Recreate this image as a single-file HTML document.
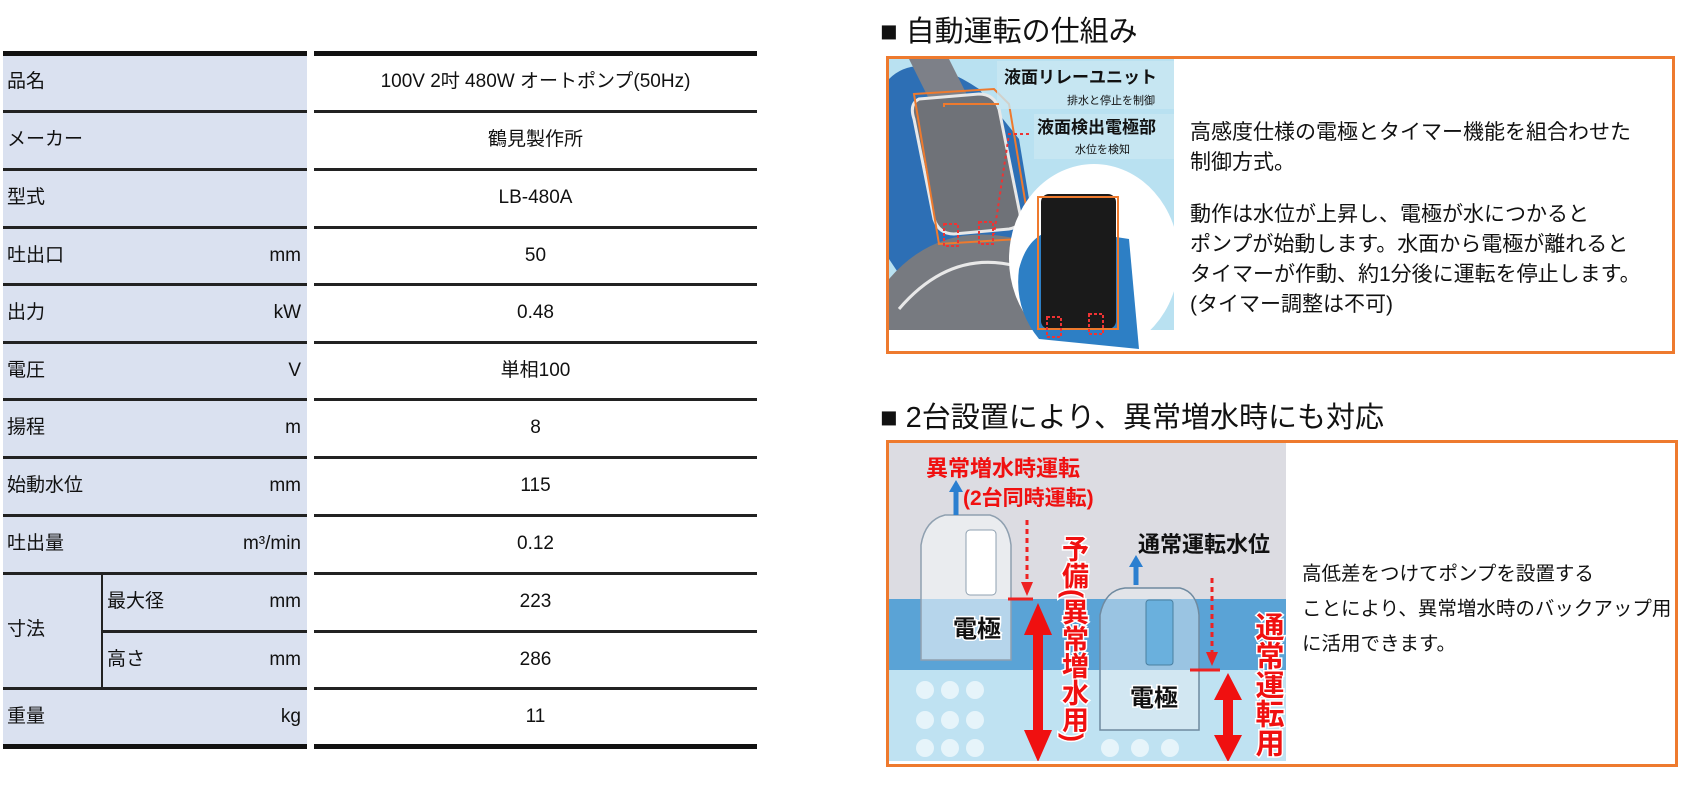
<!DOCTYPE html>
<html><head><meta charset="utf-8"><style>
body{margin:0;width:1700px;height:800px;background:#fff;position:relative;overflow:hidden;font-family:"Liberation Sans","Noto Sans CJK JP",sans-serif;color:#111}
.a{position:absolute;white-space:nowrap}
.l{position:absolute;left:3px;width:304px;background:#dae1f0}
.ln{position:absolute;height:3px;background:#222}
.t{font-size:19px;line-height:20px}
</style></head><body>
<div class="l" style="top:53px;height:693px"></div>
<div class="ln" style="left:3px;width:304px;top:51px;height:5px;background:#111"></div>
<div class="ln" style="left:314px;width:443px;top:51px;height:5px;background:#111"></div>
<div class="ln" style="left:3px;width:304px;top:744px;height:5px;background:#111"></div>
<div class="ln" style="left:314px;width:443px;top:744px;height:5px;background:#111"></div>
<div class="ln" style="left:3px;width:304px;top:110px"></div><div class="ln" style="left:314px;width:443px;top:110px"></div>
<div class="ln" style="left:3px;width:304px;top:168px"></div><div class="ln" style="left:314px;width:443px;top:168px"></div>
<div class="ln" style="left:3px;width:304px;top:226px"></div><div class="ln" style="left:314px;width:443px;top:226px"></div>
<div class="ln" style="left:3px;width:304px;top:283px"></div><div class="ln" style="left:314px;width:443px;top:283px"></div>
<div class="ln" style="left:3px;width:304px;top:341px"></div><div class="ln" style="left:314px;width:443px;top:341px"></div>
<div class="ln" style="left:3px;width:304px;top:398px"></div><div class="ln" style="left:314px;width:443px;top:398px"></div>
<div class="ln" style="left:3px;width:304px;top:456px"></div><div class="ln" style="left:314px;width:443px;top:456px"></div>
<div class="ln" style="left:3px;width:304px;top:514px"></div><div class="ln" style="left:314px;width:443px;top:514px"></div>
<div class="ln" style="left:3px;width:304px;top:572px"></div><div class="ln" style="left:314px;width:443px;top:572px"></div>
<div class="ln" style="left:102px;width:205px;top:630px"></div><div class="ln" style="left:314px;width:443px;top:630px"></div>
<div class="ln" style="left:3px;width:304px;top:687px"></div><div class="ln" style="left:314px;width:443px;top:687px"></div>
<div class="ln" style="left:101px;width:2px;top:573px;height:115px"></div>
<div class="a t" style="left:7px;top:72px">品名</div>
<div class="a t" style="left:7px;top:130px">メーカー</div>
<div class="a t" style="left:7px;top:188px">型式</div>
<div class="a t" style="left:7px;top:246px">吐出口</div><div class="a t" style="right:1399px;top:246px">mm</div>
<div class="a t" style="left:7px;top:303px">出力</div><div class="a t" style="right:1399px;top:303px">kW</div>
<div class="a t" style="left:7px;top:361px">電圧</div><div class="a t" style="right:1399px;top:361px">V</div>
<div class="a t" style="left:7px;top:418px">揚程</div><div class="a t" style="right:1399px;top:418px">m</div>
<div class="a t" style="left:7px;top:476px">始動水位</div><div class="a t" style="right:1399px;top:476px">mm</div>
<div class="a t" style="left:7px;top:534px">吐出量</div><div class="a t" style="right:1399px;top:534px">m&#179;/min</div>
<div class="a t" style="left:7px;top:620px">寸法</div>
<div class="a t" style="left:107px;top:592px">最大径</div><div class="a t" style="right:1399px;top:592px">mm</div>
<div class="a t" style="left:107px;top:650px">高さ</div><div class="a t" style="right:1399px;top:650px">mm</div>
<div class="a t" style="left:7px;top:707px">重量</div><div class="a t" style="right:1399px;top:707px">kg</div>
<div class="a t" style="left:314px;width:443px;text-align:center;top:72px">100V 2吋 480W オートポンプ(50Hz)</div>
<div class="a t" style="left:314px;width:443px;text-align:center;top:130px">鶴見製作所</div>
<div class="a t" style="left:314px;width:443px;text-align:center;top:188px">LB-480A</div>
<div class="a t" style="left:314px;width:443px;text-align:center;top:246px">50</div>
<div class="a t" style="left:314px;width:443px;text-align:center;top:303px">0.48</div>
<div class="a t" style="left:314px;width:443px;text-align:center;top:361px">単相100</div>
<div class="a t" style="left:314px;width:443px;text-align:center;top:418px">8</div>
<div class="a t" style="left:314px;width:443px;text-align:center;top:476px">115</div>
<div class="a t" style="left:314px;width:443px;text-align:center;top:534px">0.12</div>
<div class="a t" style="left:314px;width:443px;text-align:center;top:592px">223</div>
<div class="a t" style="left:314px;width:443px;text-align:center;top:650px">286</div>
<div class="a t" style="left:314px;width:443px;text-align:center;top:707px">11</div>

<div class="a" style="left:880px;top:14px;font-size:29px;line-height:36px">■ 自動運転の仕組み</div>
<div class="a" style="left:880px;top:400px;font-size:29px;line-height:36px">■ 2台設置により、異常増水時にも対応</div>

<div class="a" style="left:886px;top:56px;width:783px;height:292px;border:3px solid #ee7a2e"></div>
<svg class="a" style="left:889px;top:59px" width="285" height="290" viewBox="0 0 285 290">
<rect width="285" height="271" fill="#b9e1f1"/>
<path d="M0 20 Q30 -10 90 30 L130 80 L150 200 L20 230 L0 200Z" fill="#2d6fb5"/>
<path d="M20 0 L60 0 L80 40 L40 40Z" fill="#7d8088"/>
<path d="M0 271 L0 220 Q60 150 160 190 L150 271Z" fill="#777a80"/>
<path d="M10 250 Q70 180 150 215" stroke="#e8e8e8" stroke-width="3" fill="none"/>
<path d="M30 40 Q20 45 25 60 L45 160 Q50 175 65 175 L120 170 Q135 168 130 150 L110 50 Q105 35 90 35Z" fill="#6f7278" stroke="#e8e8e8" stroke-width="3"/>
<path d="M25 35 L105 30 L120 45 L140 165 L130 180 L50 185 Z" fill="none" stroke="#ee7a2e" stroke-width="2"/>
<ellipse cx="205" cy="200" rx="85" ry="95" fill="#fff"/>
<path d="M130 210 Q140 170 175 170 L240 180 L250 290 L150 280 Q125 250 130 210Z" fill="#2d7fc5"/>
<rect x="152" y="135" width="75" height="135" rx="8" fill="#1a1a1a"/>
<rect x="149" y="138" width="80" height="132" fill="none" stroke="#ee7a2e" stroke-width="2"/>
<rect x="108" y="2" width="177" height="48" fill="#c9e7f3" opacity="0.8"/>
<rect x="145" y="55" width="140" height="45" fill="#c9e7f3" opacity="0.8"/>
<text x="115" y="24" font-size="17" font-weight="bold" fill="#111">液面リレーユニット</text>
<text x="178" y="45" font-size="11" fill="#111">排水と停止を制御</text>
<text x="148" y="74" font-size="17" font-weight="bold" fill="#111">液面検出電極部</text>
<text x="186" y="94" font-size="11" fill="#111">水位を検知</text>
<path d="M55 48 L55 45 L110 45" stroke="#ee7a2e" stroke-width="2" fill="none"/>
<path d="M140 75 L120 75 L105 175" stroke="#e33" stroke-dasharray="3 3" stroke-width="2" fill="none"/>
<rect x="55" y="165" width="14" height="22" fill="none" stroke="#e33" stroke-dasharray="3 2" stroke-width="2"/>
<rect x="90" y="163" width="14" height="22" fill="none" stroke="#e33" stroke-dasharray="3 2" stroke-width="2"/>
<rect x="158" y="258" width="14" height="20" fill="none" stroke="#e33" stroke-dasharray="3 2" stroke-width="2"/>
<rect x="200" y="255" width="14" height="20" fill="none" stroke="#e33" stroke-dasharray="3 2" stroke-width="2"/>
</svg>
<div class="a" style="left:1190px;top:118px;font-size:21px;line-height:30px">高感度仕様の電極とタイマー機能を組合わせた<br>制御方式。</div>
<div class="a" style="left:1190px;top:200px;font-size:21px;line-height:30px">動作は水位が上昇し、電極が水につかると<br>ポンプが始動します。水面から電極が離れると<br>タイマーが作動、約1分後に運転を停止します。<br>(タイマー調整は不可)</div>

<div class="a" style="left:886px;top:440px;width:786px;height:321px;border:3px solid #ee7a2e"></div>
<svg class="a" style="left:889px;top:443px" width="397" height="318" viewBox="889 443 397 318">
<rect x="889" y="443" width="397" height="318" fill="#dcdce2"/>
<rect x="889" y="599" width="397" height="71" fill="#5aa3d6"/>
<rect x="889" y="670" width="397" height="91" fill="#bfe2f2"/>
<g fill="#e6f4fa">
<circle cx="925" cy="690" r="9"/><circle cx="950" cy="690" r="9"/><circle cx="975" cy="690" r="9"/>
<circle cx="925" cy="720" r="9"/><circle cx="950" cy="720" r="9"/><circle cx="975" cy="720" r="9"/>
<circle cx="925" cy="748" r="9"/><circle cx="950" cy="748" r="9"/><circle cx="975" cy="748" r="9"/>
<circle cx="1110" cy="748" r="9"/><circle cx="1140" cy="748" r="9"/><circle cx="1170" cy="748" r="9"/>
</g>
<path d="M921 660 L921 545 Q925 520 945 515 L990 515 Q1008 520 1011 545 L1011 660Z" fill="#f4f6f8" fill-opacity="0.6" stroke="#8fa0b0" stroke-width="1.5"/>
<rect x="966" y="530" width="30" height="65" rx="4" fill="#fff" stroke="#8fa0b0"/>
<path d="M1100 730 L1100 615 Q1105 590 1125 588 L1180 588 Q1197 592 1199 615 L1199 730Z" fill="#e8eef2" fill-opacity="0.45" stroke="#6f8aa0" stroke-width="1.5"/>
<rect x="1146" y="600" width="27" height="65" rx="3" fill="#6ab0dd" stroke="#4a7fa0"/>
<path d="M956 515 L956 490" stroke="#2b7fd0" stroke-width="5"/><path d="M949 492 L956 480 L963 492Z" fill="#2b7fd0"/>
<path d="M1136 585 L1136 565" stroke="#2b7fd0" stroke-width="5"/><path d="M1129 567 L1136 555 L1143 567Z" fill="#2b7fd0"/>
<path d="M1027 520 L1027 582" stroke="#e22" stroke-width="3" stroke-dasharray="5 4"/><path d="M1021 582 L1027 596 L1033 582Z" fill="#e22"/>
<path d="M1008 599 L1033 599" stroke="#e22" stroke-width="3"/>
<path d="M1212 578 L1212 652" stroke="#e22" stroke-width="3" stroke-dasharray="5 4"/><path d="M1206 652 L1212 666 L1218 652Z" fill="#e22"/>
<path d="M1190 670 L1220 670" stroke="#e22" stroke-width="3"/>
<path d="M1038 603 L1052 635 L1043 635 L1043 730 L1052 730 L1038 762 L1024 730 L1033 730 L1033 635 L1024 635Z" fill="#f01010"/>
<path d="M1228 673 L1242 700 L1233 700 L1233 735 L1242 735 L1228 762 L1214 735 L1223 735 L1223 700 L1214 700Z" fill="#f01010"/>
<g font-weight="bold" stroke="#fff" stroke-width="3" paint-order="stroke">
<text x="926" y="476" font-size="22" fill="#f01010" stroke="none">異常増水時運転</text>
<text x="963" y="505" font-size="21" fill="#f01010" stroke="none">(2台同時運転)</text>
<text x="1138" y="552" font-size="22" fill="#111" stroke="none">通常運転水位</text>
<text x="953" y="637" font-size="24" fill="#111">電極</text>
<text x="1130" y="706" font-size="24" fill="#111">電極</text>
<text font-size="27" fill="#f01010" x="1073" y="535" style="writing-mode:vertical-rl">予備(異常増水用)</text>
<text font-size="29" fill="#f01010" x="1267" y="612" style="writing-mode:vertical-rl">通常運転用</text>
</g>
</svg>
<div class="a" style="left:1302px;top:557px;font-size:19.5px;line-height:35px">高低差をつけてポンプを設置する<br>ことにより、異常増水時のバックアップ用<br>に活用できます。</div>
</body></html>
